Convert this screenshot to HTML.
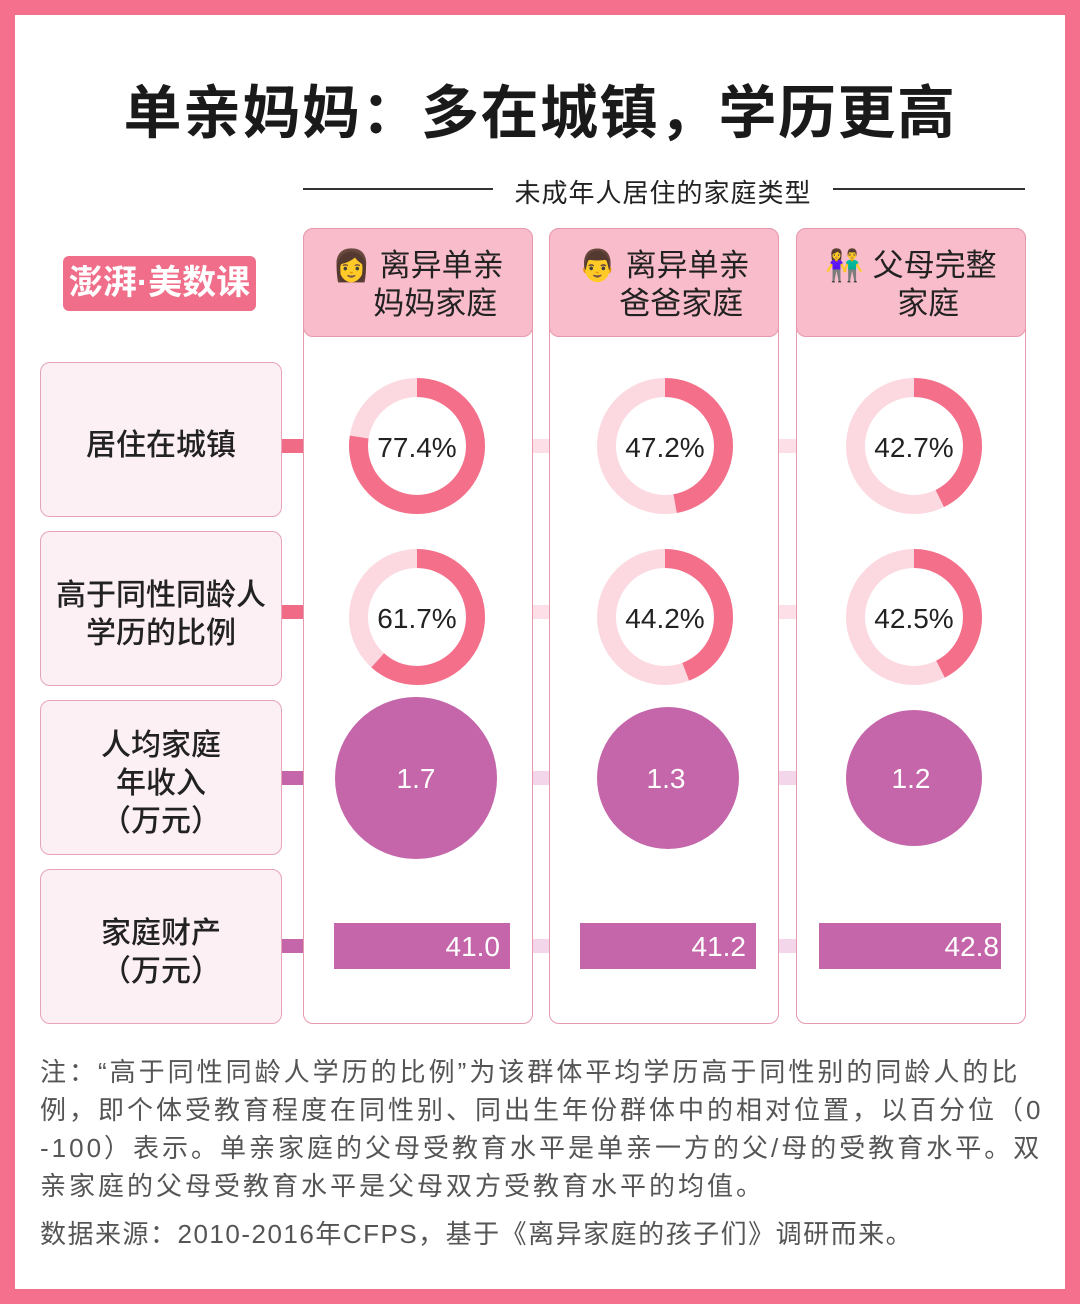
<!DOCTYPE html>
<html><head><meta charset="utf-8"><style>
*{margin:0;padding:0;box-sizing:border-box}
body{width:1080px;height:1304px;background:#f4708c;position:relative;font-family:"Liberation Sans","Noto Sans CJK SC",sans-serif;overflow:hidden}
.in{position:absolute;left:15px;top:15px;width:1050px;height:1274px;background:#fff}
.a{position:absolute}
.title{left:0;width:1080px;top:66px;text-align:center;font-size:58px;font-weight:bold;color:#1a1a1a;letter-spacing:1.5px}
.sub{left:493px;width:340px;top:173px;text-align:center;font-size:26px;color:#222;letter-spacing:1px}
.hl{height:2px;background:#333;top:188px}
.col{border:1.5px solid #e79aae;border-radius:10px;background:#fff;top:228px;height:796px}
.hd{border:1.5px solid #e79aae;border-radius:10px;background:#f9bccb;top:228px;height:109px;font-size:31px;color:#222;line-height:38px;text-align:center;padding-top:18px}
.lb{left:40px;width:242px;height:155px;border:1.5px solid #e7a4b8;border-radius:10px;background:#fdf0f4;display:flex;align-items:center;justify-content:center;text-align:center;font-size:30px;color:#222;line-height:38px;padding-top:12px;font-weight:500}
.cn{height:14px}
.note{left:40px;width:1030px;font-size:26px;color:#555;line-height:38px;letter-spacing:3px;white-space:nowrap}
.logo{left:63px;top:256px;width:193px;height:55px;background:#f06e89;border-radius:6px;color:#fff;font-size:34px;text-align:center;line-height:54px;font-weight:bold}
.bar{height:46px;top:923px;background:#c466a9;color:#fff;font-size:28px;text-align:right;line-height:48px;padding-right:10px}
</style></head><body>
<div class="in"></div>
<div class="a title">单亲妈妈：多在城镇，学历更高</div>
<div class="a hl" style="left:303px;width:190px"></div>
<div class="a sub">未成年人居住的家庭类型</div>
<div class="a hl" style="left:833px;width:192px"></div>
<div class="a logo">澎湃·美数课</div>

<div class="a col" style="left:303px;width:230px"></div>
<div class="a col" style="left:549px;width:230px"></div>
<div class="a col" style="left:796px;width:230px"></div>
<div class="a hd" style="left:303px;width:230px">👩 离异单亲<br>&nbsp;&nbsp;&nbsp;&nbsp;妈妈家庭</div>
<div class="a hd" style="left:549px;width:230px">👨 离异单亲<br>&nbsp;&nbsp;&nbsp;&nbsp;爸爸家庭</div>
<div class="a hd" style="left:796px;width:230px">👫 父母完整<br>&nbsp;&nbsp;&nbsp;&nbsp;家庭</div>

<div class="a lb" style="top:362px">居住在城镇</div>
<div class="a lb" style="top:531px">高于同性同龄人<br>学历的比例</div>
<div class="a lb" style="top:700px">人均家庭<br>年收入<br>（万元）</div>
<div class="a lb" style="top:869px">家庭财产<br>（万元）</div>

<div class="a cn" style="left:282px;width:21px;top:439px;background:#f06b86"></div>
<div class="a cn" style="left:533px;width:16px;top:439px;background:#fde0e7"></div>
<div class="a cn" style="left:779px;width:17px;top:439px;background:#fde0e7"></div>
<div class="a cn" style="left:282px;width:21px;top:605px;background:#f06b86"></div>
<div class="a cn" style="left:533px;width:16px;top:605px;background:#fde0e7"></div>
<div class="a cn" style="left:779px;width:17px;top:605px;background:#fde0e7"></div>
<div class="a cn" style="left:282px;width:21px;top:771px;background:#c466a9"></div>
<div class="a cn" style="left:533px;width:16px;top:771px;background:#f3d6ea"></div>
<div class="a cn" style="left:779px;width:17px;top:771px;background:#f3d6ea"></div>
<div class="a cn" style="left:282px;width:21px;top:939px;background:#c466a9"></div>
<div class="a cn" style="left:533px;width:16px;top:939px;background:#f3d6ea"></div>
<div class="a cn" style="left:779px;width:17px;top:939px;background:#f3d6ea"></div>

<svg class="a" style="left:0;top:0" width="1080" height="1304">
<g fill="none" stroke-width="19">
<g transform="translate(417,446) rotate(-90)"><circle r="58.5" stroke="#fcd9e0"/><circle r="58.5" stroke="#f36f8a" stroke-dasharray="284.5 400"/></g>
<g transform="translate(665,446) rotate(-90)"><circle r="58.5" stroke="#fcd9e0"/><circle r="58.5" stroke="#f36f8a" stroke-dasharray="173.5 400"/></g>
<g transform="translate(914,446) rotate(-90)"><circle r="58.5" stroke="#fcd9e0"/><circle r="58.5" stroke="#f36f8a" stroke-dasharray="157 400"/></g>
<g transform="translate(417,617) rotate(-90)"><circle r="58.5" stroke="#fcd9e0"/><circle r="58.5" stroke="#f36f8a" stroke-dasharray="226.8 400"/></g>
<g transform="translate(665,617) rotate(-90)"><circle r="58.5" stroke="#fcd9e0"/><circle r="58.5" stroke="#f36f8a" stroke-dasharray="162.5 400"/></g>
<g transform="translate(914,617) rotate(-90)"><circle r="58.5" stroke="#fcd9e0"/><circle r="58.5" stroke="#f36f8a" stroke-dasharray="156.2 400"/></g>
</g>
<circle cx="416" cy="778" r="81" fill="#c466a9"/>
<circle cx="668" cy="778" r="71" fill="#c466a9"/>
<circle cx="914" cy="778" r="68" fill="#c466a9"/>
<g font-family="Liberation Sans,sans-serif" font-size="28" text-anchor="middle" fill="#222">
<text x="417" y="457">77.4%</text><text x="665" y="457">47.2%</text><text x="914" y="457">42.7%</text>
<text x="417" y="628">61.7%</text><text x="665" y="628">44.2%</text><text x="914" y="628">42.5%</text>
<g fill="#fff"><text x="416" y="788">1.7</text><text x="666" y="788">1.3</text><text x="911" y="788">1.2</text></g>
</g>
</svg>
<div class="a bar" style="left:334px;width:176px">41.0</div>
<div class="a bar" style="left:580px;width:176px">41.2</div>
<div class="a bar" style="left:819px;width:182px;padding-right:2px">42.8</div>

<div class="a note" style="top:1053px">注：“高于同性同龄人学历的比例”为该群体平均学历高于同性别的同龄人的比<br>例，即个体受教育程度在同性别、同出生年份群体中的相对位置，以百分位（0<br>-100）表示。单亲家庭的父母受教育水平是单亲一方的父/母的受教育水平。双<br>亲家庭的父母受教育水平是父母双方受教育水平的均值。</div>
<div class="a note" style="top:1215px;letter-spacing:1.5px">数据来源：2010-2016年CFPS，基于《离异家庭的孩子们》调研而来。</div>
</body></html>
